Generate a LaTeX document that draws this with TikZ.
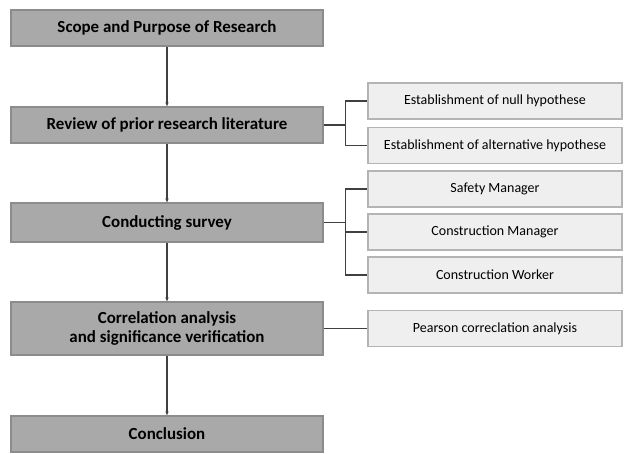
\documentclass[tikz,border=0pt]{standalone}
\usepackage{fontspec}
\setmainfont{Carlito}
\usetikzlibrary{arrows.meta}

\definecolor{maingray}{HTML}{A9A9A9}
\definecolor{mainline}{HTML}{8C8C8C}
\definecolor{subgray}{HTML}{EFEFEF}
\definecolor{subline}{HTML}{B4B4B4}
\definecolor{linkgray}{HTML}{404040}

\tikzset{
  mainbox/.style={draw=mainline, fill=maingray, line width=1.2pt, minimum width=234pt,
    minimum height=27pt, inner sep=0pt, align=center, font=\fontsize{12.7}{14}\selectfont\bfseries},
  subbox/.style={draw=subline, fill=subgray, line width=1.1pt, minimum width=190.5pt,
    minimum height=27pt, inner sep=0pt, align=center, font=\fontsize{10.5}{12}\selectfont},
  link/.style={draw=linkgray, line width=0.9pt},
}

\begin{document}
\begin{tikzpicture}[x=0.75pt, y=-0.75pt]
            \useasboundingbox (0,0) rectangle (624,453);

            \node[mainbox] (m1) at (167, 28) {Scope and Purpose of Research};
            \node[mainbox] (m2) at (167, 125) {Review of prior research literature};
            \node[mainbox, minimum height=29pt] (m3) at (167, 222.5) {Conducting survey};
            \node[mainbox, minimum height=39.5pt] (m4) at (167, 328.5) {Correlation analysis\\and significance verification};
            \node[mainbox] (m5) at (167, 434) {Conclusion};

            \node[subbox] (d1) at (495, 101) {Establishment of null hypothese};
            \node[subbox] (d2) at (495, 145.5) {Establishment of alternative hypothese};
            \node[subbox] (d3) at (495, 189) {Safety Manager};
            \node[subbox] (d4) at (495, 232) {Construction Manager};
            \node[subbox] (d5) at (495, 275) {Construction Worker};
            \node[subbox] (d6) at (495, 328.5) {Pearson correclation analysis};

            \draw[link, -{Stealth[length=3pt, width=2.5pt]}] (m1) to (m2);
            \draw[link, -{Stealth[length=3pt, width=2.5pt]}] (m2) to (m3);
            \draw[link, -{Stealth[length=3pt, width=2.5pt]}] (m3) to (m4);
            \draw[link, -{Stealth[length=3pt, width=2.5pt]}] (m4) to (m5);

            \draw[link] (m2.east) -- ++(22, 0) |- (d1.west);
            \draw[link] (m2.east) -- ++(22, 0) |- (d2.west);
            \draw[link] (m3.east) -- ++(22, 0) |- (d3.west);
            \draw[link] (m3.east) -- ++(22, 0) |- (d4.west);
            \draw[link] (m3.east) -- ++(22, 0) |- (d5.west);
            \draw[link] (m4.east) to (d6.west);
        \end{tikzpicture}
\end{document}
